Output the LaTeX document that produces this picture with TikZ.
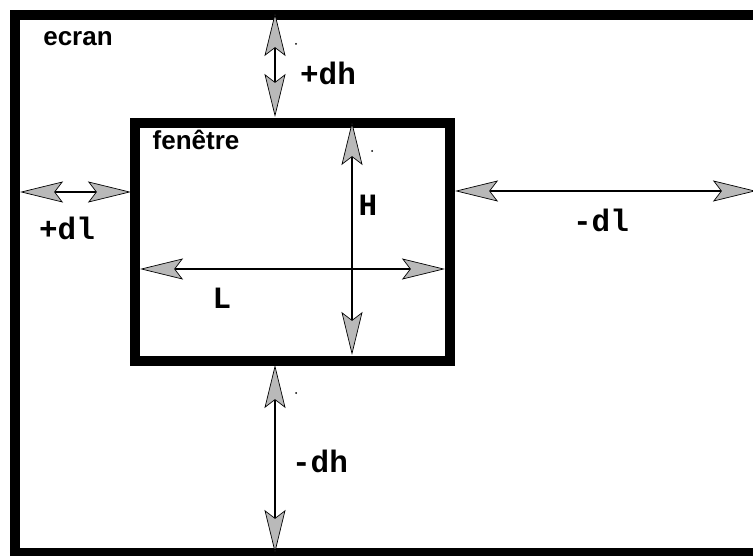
\documentclass[tikz,border=0pt]{standalone}
\usepackage{fontspec}
\setmainfont{Liberation Sans}
\newfontfamily\codefont{Liberation Mono}
\usetikzlibrary{arrows.meta}
\tikzset{
  tipshape/.tip={Stealth[length=43pt,width=21pt,inset=8pt,fill=gray!55,line width=0.7pt]},
  frame/.style={line width=10pt, line join=miter, draw=black},
  dim/.style={line width=1.6pt, draw=black, tipshape-tipshape},
  dimlabel/.style={font=\codefont\bfseries\fontsize{31}{31}\selectfont, inner sep=0pt},
  title/.style={font=\bfseries\fontsize{26}{26}\selectfont, inner sep=0pt},
  speck/.style={fill=black, circle, inner sep=0pt, minimum size=2pt}
}
\begin{document}
\begin{tikzpicture}[x=1pt,y=-1pt]
  \useasboundingbox (0,0) rectangle (753,556);
  \clip (0,0) rectangle (753,556);

  % screen frame (open on the right)
  \coordinate (sTR) at (780,15);
  \coordinate (sTL) at (15,15);
  \coordinate (sBL) at (15,553);
  \coordinate (sBR) at (780,553);
  \draw[frame] (sTR) -- (sTL) -- (sBL) -- (sBR);

  % window frame
  \coordinate (wTL) at (135,123);
  \coordinate (wBR) at (450,361);
  \draw[frame] (wTL) rectangle (wBR);

  % connector end points
  \coordinate (dhTopA) at (275,13);
  \coordinate (dhTopB) at (275,117);
  \coordinate (dlLeftA) at (20,192);
  \coordinate (dlLeftB) at (131,192);
  \coordinate (dlRightA) at (455,191);
  \coordinate (dlRightB) at (756,191);
  \coordinate (hTop) at (352,122);
  \coordinate (hBot) at (352,355);
  \coordinate (lLeft) at (140,269);
  \coordinate (lRight) at (445,269);
  \coordinate (dhBotA) at (275,365);
  \coordinate (dhBotB) at (275,553);

  % dimension arrows
  \draw[dim] (dhTopA) -- (dhTopB);
  \draw[dim] (dlLeftA) -- (dlLeftB);
  \draw[dim] (dlRightA) -- (dlRightB);
  \draw[dim] (hTop) -- (hBot);
  \draw[dim] (lLeft) -- (lRight);
  \draw[dim] (dhBotA) -- (dhBotB);

  % labels
  \node[title] (ecran) at (78,39) {ecran};
  \node[title] (fenetre) at (196,140) {fenêtre};
  \node[dimlabel] (pdh) at (328,73) {+dh};
  \node[dimlabel] (pdl) at (67,228) {+dl};
  \node[dimlabel] (mdl) at (601,220) {-dl};
  \node[dimlabel] (hlab) at (368,205) {H};
  \node[dimlabel] (llab) at (222,298) {L};
  \node[dimlabel] (mdh) at (320,461) {-dh};

  % stray specks
  \node[speck] (s1) at (296,44) {};
  \node[speck] (s2) at (372,151) {};
  \node[speck] (s3) at (296,393) {};
\end{tikzpicture}
\end{document}
